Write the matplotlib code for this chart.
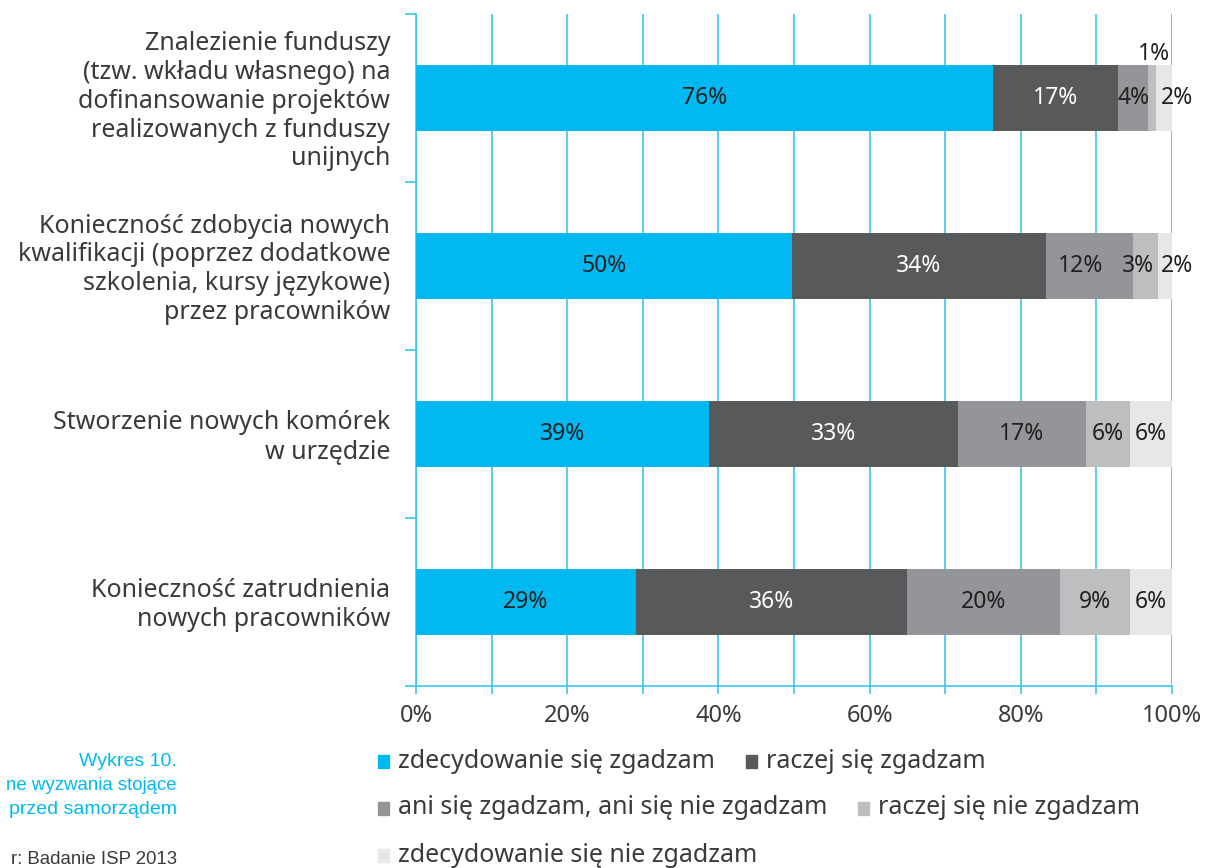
import matplotlib
matplotlib.use("Agg")
import matplotlib.pyplot as plt
from matplotlib.patches import Rectangle
import numpy as np

plt.rcParams['font.family'] = ['Noto Sans', 'DejaVu Sans']

categories = [
    "Znalezienie funduszy\n(tzw. wkładu własnego) na\ndofinansowanie projektów\nrealizowanych z funduszy\nunijnych",
    "Konieczność zdobycia nowych\nkwalifikacji (poprzez dodatkowe\nszkolenia, kursy językowe)\nprzez pracowników",
    "Stworzenie nowych komórek\nw urzędzie",
    "Konieczność zatrudnienia\nnowych pracowników",
]
series_names = ["zdecydowanie się zgadzam", "raczej się zgadzam",
                "ani się zgadzam, ani się nie zgadzam", "raczej się nie zgadzam",
                "zdecydowanie się nie zgadzam"]
zdecydowanie_tak = [76.3, 49.7, 38.8, 29.1]
raczej_tak = [16.6, 33.6, 32.9, 35.8]
ani_ani = [3.9, 11.6, 16.9, 20.3]
raczej_nie = [1.1, 3.3, 5.8, 9.2]
zdecydowanie_nie = [2.1, 1.8, 5.6, 5.6]
xtick_labels = ["0%", "20%", "40%", "60%", "80%", "100%"]

colors = ["#00B9F1", "#58595B", "#939598", "#BCBEC0", "#E6E7E8"]
text_colors = ["#231F20", "white", "#231F20", "#231F20", "#231F20"]
grid_c = "#3CC3F2"
txt_c = "#3A3A3A"

fig = plt.figure(figsize=(12.1, 8.68), dpi=100)
ax = fig.add_axes([416/1210, 1-686/868, 756/1210, 672/868])

series = [zdecydowanie_tak, raczej_tak, ani_ani, raczej_nie, zdecydowanie_nie]
y = np.arange(len(categories))
left = np.zeros(len(categories))
for si, vals in enumerate(series):
    vals = np.array(vals)
    ax.barh(y, vals, left=left, height=0.39, color=colors[si], zorder=3,
            label=series_names[si])
    for i, v in enumerate(vals):
        cx = left[i] + v / 2
        cy = y[i]
        if si == 3 and v < 2:
            cy = y[i] - 0.26
            cx = left[i] + v - 0.3
        elif si == 3 and v < 4:
            cx = left[i] + v / 2 - 1.0
        elif si == 4 and v < 3:
            cx = 100.6
        elif si == 2 and v > 10 and series[3][i] < 4:
            cx = left[i] + v / 2 - 1.2
        ax.text(cx, cy, f"{int(round(v))}%", ha='center', va='center', fontsize=16.5,
                color=text_colors[si], zorder=4)
    left += vals

ax.set_xlim(0, 100)
ax.set_ylim(len(categories) - 0.5, -0.5)
ax.set_xticks(np.arange(0, 101, 10))
ax.set_xticklabels([xtick_labels[k // 2] if k % 2 == 0 else "" for k in range(11)])
ax.set_yticks(np.arange(-0.5, len(categories), 1.0))
ax.set_yticklabels([])
for i, c in enumerate(categories):
    ax.text(-3.4, y[i] + 0.02, c, ha='right', va='center', fontsize=18, color=txt_c,
            linespacing=1.2)
ax.grid(axis='x', color=grid_c, linewidth=1.2, zorder=1)
for s in ['top', 'right']:
    ax.spines[s].set_visible(False)
for s in ['left', 'bottom']:
    ax.spines[s].set_color(grid_c)
    ax.spines[s].set_linewidth(1.2)
ax.tick_params(axis='y', length=8, color=grid_c, width=1.2)
ax.tick_params(axis='x', length=6, color=grid_c, width=1.2, labelsize=17,
               labelcolor=txt_c, pad=7)

# manual legend
leg_pos = [(378, 761), (746, 761), (378, 808), (858, 808), (378, 855)]
for (px, py), col, name in zip(leg_pos, colors, series_names):
    fig.patches.append(Rectangle((px/1210, 1-(py+7)/868), 11/1210, 13/868,
                                 transform=fig.transFigure, color=col))
    fig.text((px+20)/1210, 1-py/868, name, ha='left', va='center',
             fontsize=18, color=txt_c)

side = dict(ha='right', va='center', family=['Liberation Sans', 'DejaVu Sans'])
fig.text(177/1210, 1-762/868, "Wykres 10.", color='#00B9F1', fontsize=14, **side)
fig.text(177/1210, 1-786/868, "ne wyzwania stojące", color='#00B9F1', fontsize=13.4, **side)
fig.text(177/1210, 1-810/868, "przed samorządem", color='#00B9F1', fontsize=14, **side)
fig.text(177/1210, 1-860/868, "r: Badanie ISP 2013", color=txt_c, fontsize=13.4, **side)

fig.savefig("out.png", dpi=100)
